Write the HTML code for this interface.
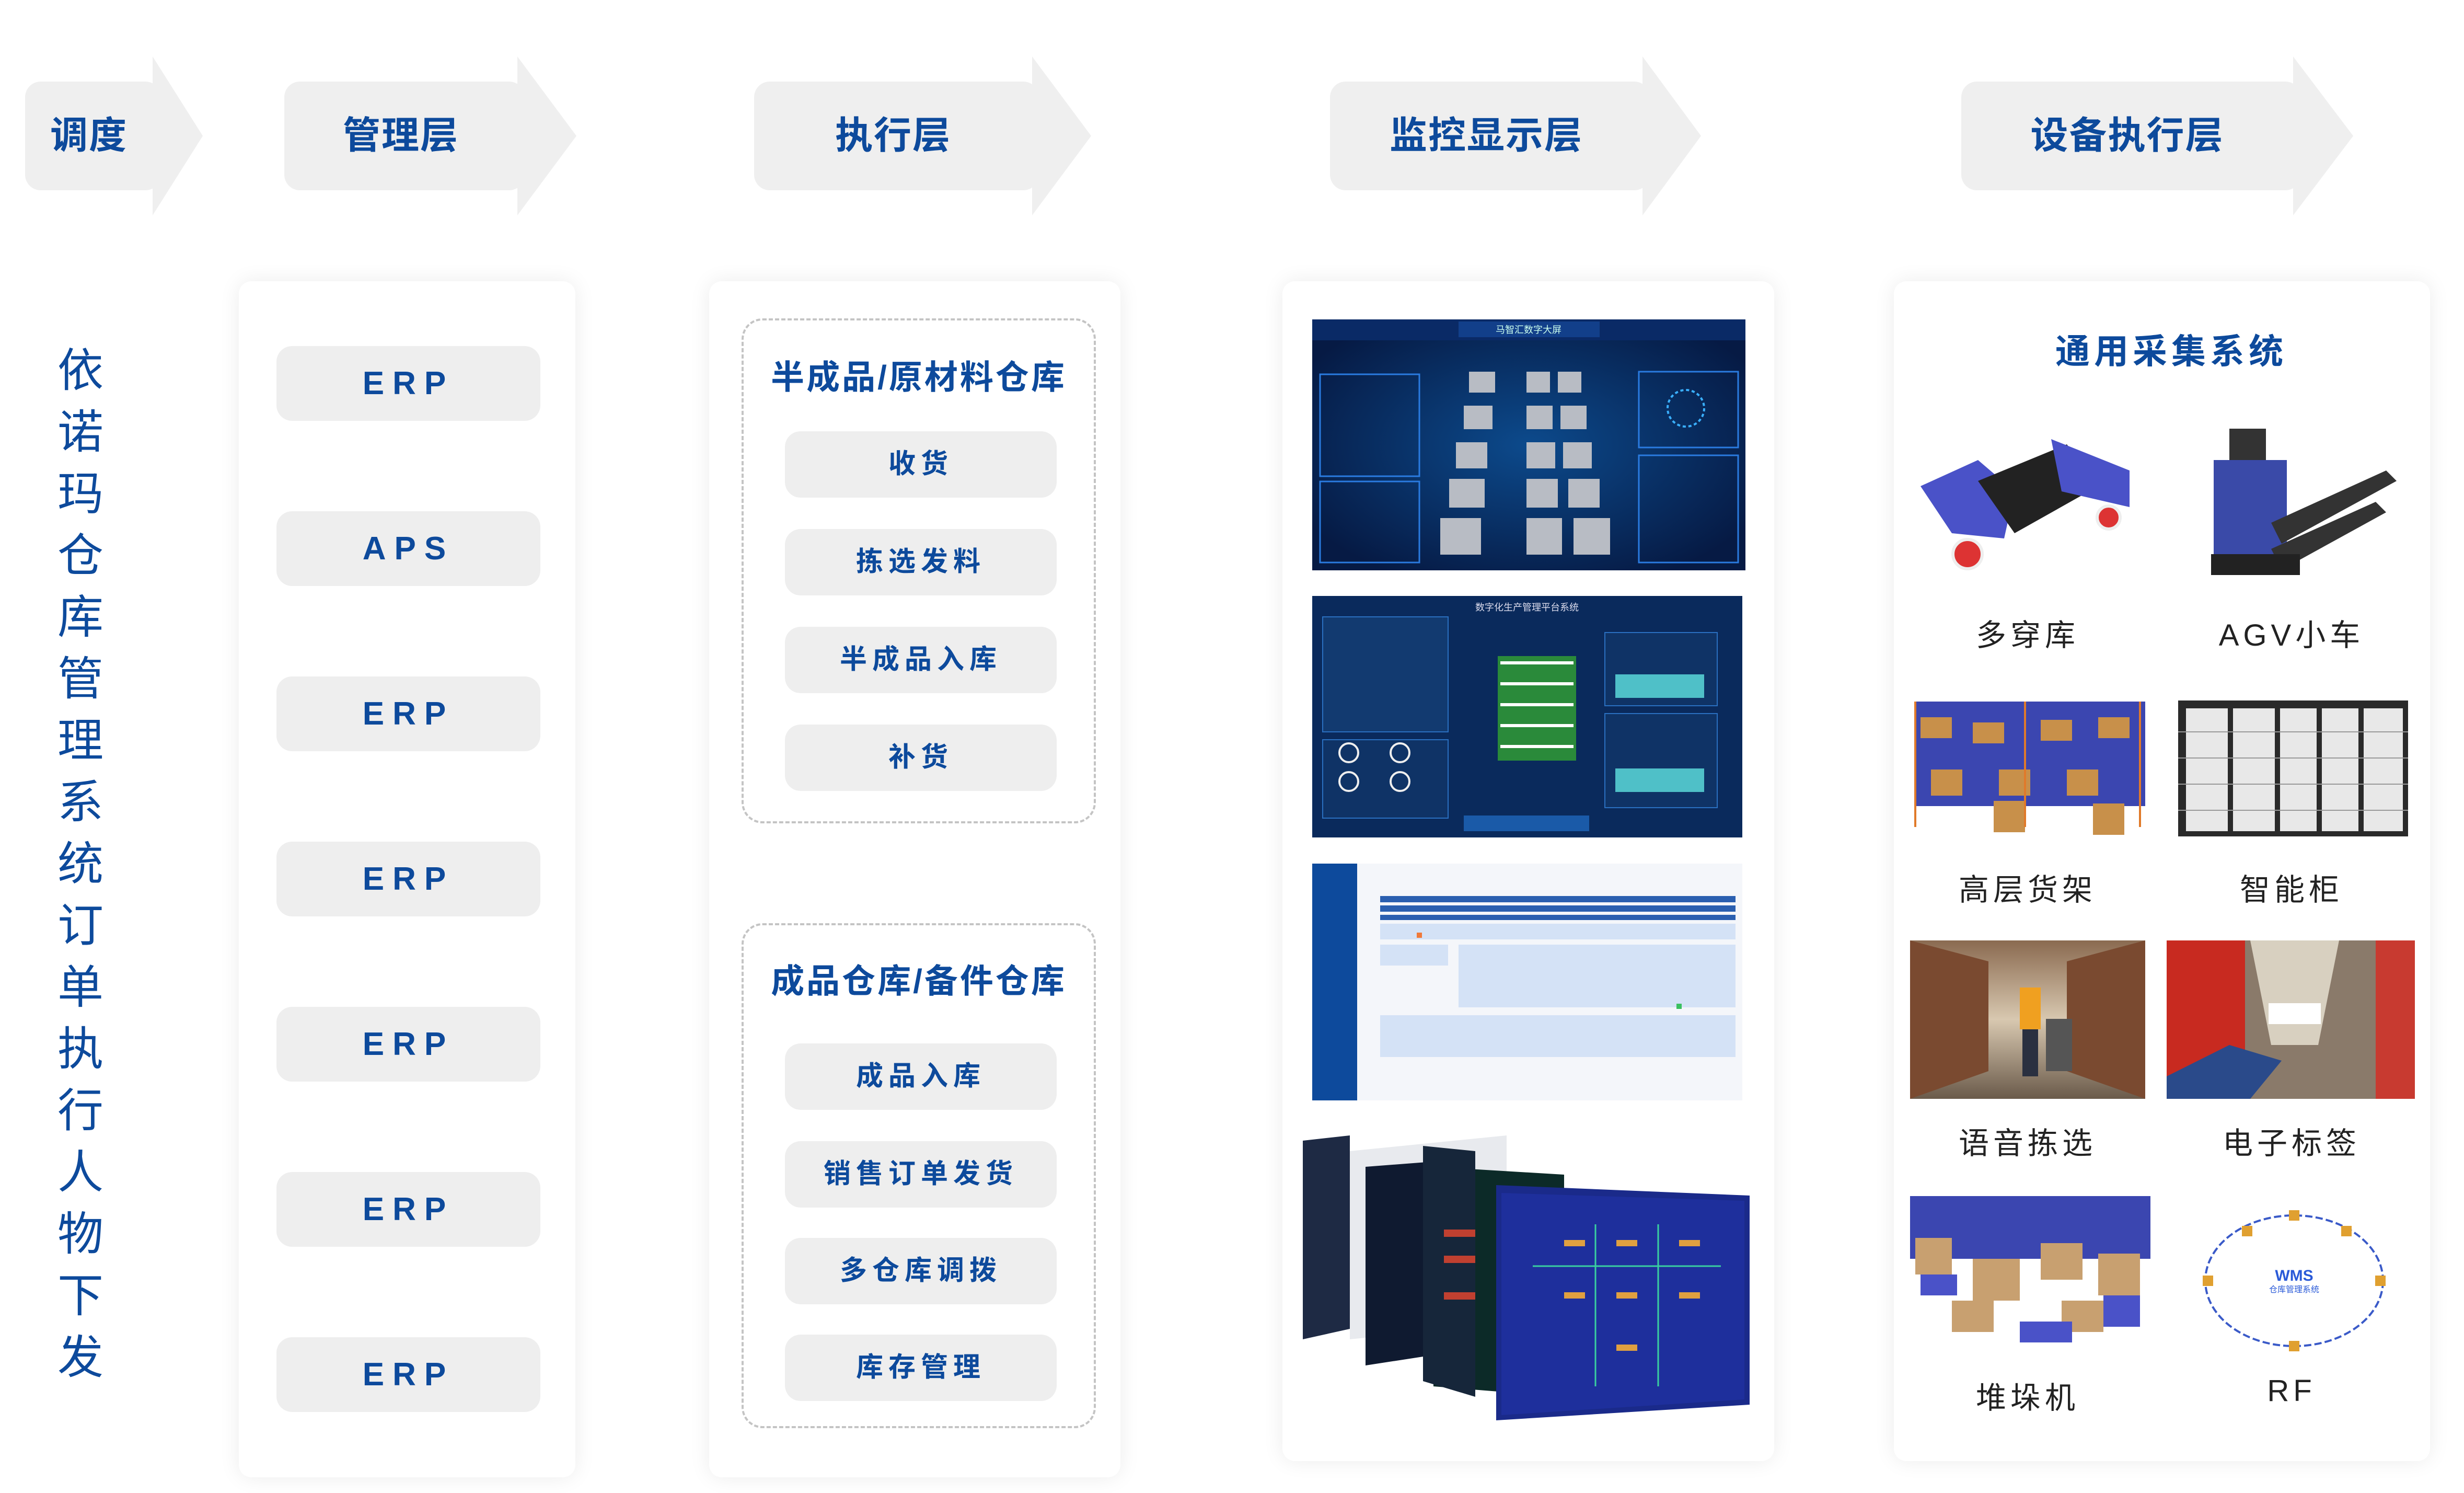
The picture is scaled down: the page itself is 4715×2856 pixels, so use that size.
<!DOCTYPE html>
<html><head><meta charset="utf-8">
<style>
html,body{margin:0;padding:0;background:#fff;}
body{width:4715px;height:2856px;position:relative;overflow:hidden;font-family:"Liberation Sans","Noto Sans CJK SC",sans-serif;}
.a{position:absolute;}
.hd{position:absolute;font-size:72px;color:#0d4a9c;font-weight:bold;text-align:center;line-height:208px;top:156px;letter-spacing:2px;}
.panel{position:absolute;background:#fff;border-radius:24px;box-shadow:0 0 40px rgba(0,0,0,0.08);}
.btn{position:absolute;background:#eeeeee;border-radius:30px;color:#0d4a9c;font-weight:bold;text-align:center;}
.erp{left:529px;width:505px;height:143px;line-height:143px;font-size:62px;letter-spacing:16px;}
.sb{left:1502px;width:520px;height:127px;line-height:127px;font-size:52px;letter-spacing:10px;}
.dash{position:absolute;border:4px dashed #c4c4c4;border-radius:40px;}
.ttl{position:absolute;color:#0d4a9c;font-weight:bold;text-align:center;}
.lbl{position:absolute;font-size:58px;color:#222;text-align:center;letter-spacing:8px;width:460px;}
.vt{position:absolute;left:108px;top:650px;width:92px;font-size:88px;line-height:118px;color:#0d4a9c;text-align:center;}
</style></head><body>

<svg class="a" style="left:0;top:0" width="4715" height="440">
<g fill="#efefef">
<rect x="48" y="156" width="260" height="208" rx="30"/><polygon points="292,108 388,260 292,412"/>
<rect x="544" y="156" width="460" height="208" rx="30"/><polygon points="990,108 1103,260 990,412"/>
<rect x="1443" y="156" width="545" height="208" rx="30"/><polygon points="1975,108 2088,260 1975,412"/>
<rect x="2545" y="156" width="612" height="208" rx="30"/><polygon points="3143,108 3255,260 3143,412"/>
<rect x="3753" y="156" width="650" height="208" rx="30"/><polygon points="4388,108 4503,260 4388,412"/>
</g></svg>
<div class="hd" style="left:48px;width:244px">调度</div>
<div class="hd" style="left:544px;width:446px">管理层</div>
<div class="hd" style="left:1443px;width:532px">执行层</div>
<div class="hd" style="left:2545px;width:598px">监控显示层</div>
<div class="hd" style="left:3753px;width:635px">设备执行层</div>

<div class="vt">依<br>诺<br>玛<br>仓<br>库<br>管<br>理<br>系<br>统<br>订<br>单<br>执<br>行<br>人<br>物<br>下<br>发</div>

<div class="panel" style="left:457px;top:538px;width:644px;height:2288px"></div>
<div class="btn erp" style="top:662px">ERP</div>
<div class="btn erp" style="top:978px">APS</div>
<div class="btn erp" style="top:1294px">ERP</div>
<div class="btn erp" style="top:1610px">ERP</div>
<div class="btn erp" style="top:1926px">ERP</div>
<div class="btn erp" style="top:2242px">ERP</div>
<div class="btn erp" style="top:2558px">ERP</div>

<div class="panel" style="left:1357px;top:538px;width:787px;height:2288px"></div>
<div class="dash" style="left:1419px;top:609px;width:670px;height:958px"></div>
<div class="ttl" style="left:1419px;top:672px;width:678px;font-size:64px;line-height:100px;letter-spacing:4px">半成品/原材料仓库</div>
<div class="btn sb" style="top:825px">收货</div>
<div class="btn sb" style="top:1012px">拣选发料</div>
<div class="btn sb" style="top:1199px">半成品入库</div>
<div class="btn sb" style="top:1386px">补货</div>
<div class="dash" style="left:1419px;top:1766px;width:670px;height:958px"></div>
<div class="ttl" style="left:1419px;top:1827px;width:678px;font-size:64px;line-height:100px;letter-spacing:4px">成品仓库/备件仓库</div>
<div class="btn sb" style="top:1996px">成品入库</div>
<div class="btn sb" style="top:2183px">销售订单发货</div>
<div class="btn sb" style="top:2368px">多仓库调拨</div>
<div class="btn sb" style="top:2553px">库存管理</div>

<div class="panel" style="left:2454px;top:538px;width:941px;height:2257px"></div>
<svg class="a" style="left:2511px;top:611px" width="829" height="480">
<defs><radialGradient id="g1" cx="50%" cy="50%" r="60%"><stop offset="0" stop-color="#0c4a8c"/><stop offset="1" stop-color="#061a44"/></radialGradient></defs>
<rect width="829" height="480" fill="url(#g1)"/>
<rect x="0" y="0" width="829" height="40" fill="#0a2a66"/>
<rect x="280" y="4" width="270" height="30" fill="#123f8a"/>
<text x="414" y="26" fill="#cfe" font-size="18" text-anchor="middle">马智汇数字大屏</text>
<rect x="15" y="105" width="190" height="195" fill="none" stroke="#2a7be0" stroke-width="3"/>
<rect x="15" y="310" width="190" height="155" fill="none" stroke="#2a7be0" stroke-width="3"/>
<rect x="625" y="100" width="190" height="145" fill="none" stroke="#2a7be0" stroke-width="3"/>
<rect x="625" y="260" width="190" height="205" fill="none" stroke="#2a7be0" stroke-width="3"/>
<g fill="#b8bcc4">
<rect x="300" y="100" width="50" height="40"/><rect x="290" y="165" width="55" height="45"/><rect x="275" y="235" width="60" height="50"/><rect x="262" y="305" width="68" height="55"/><rect x="245" y="380" width="78" height="70"/>
<rect x="410" y="100" width="45" height="40"/><rect x="410" y="165" width="50" height="45"/><rect x="410" y="235" width="55" height="50"/><rect x="410" y="305" width="60" height="55"/><rect x="410" y="380" width="68" height="70"/>
<rect x="470" y="100" width="45" height="40"/><rect x="475" y="165" width="50" height="45"/><rect x="480" y="235" width="55" height="50"/><rect x="490" y="305" width="60" height="55"/><rect x="500" y="380" width="70" height="70"/>
</g>
<circle cx="715" cy="170" r="35" fill="none" stroke="#3ab0ff" stroke-width="4" stroke-dasharray="6 5"/>
</svg>
<svg class="a" style="left:2511px;top:1140px" width="823" height="462">
<rect width="823" height="462" fill="#0a2a5c"/>
<rect x="20" y="40" width="240" height="220" fill="#123a70" stroke="#2a6fc0" stroke-width="2"/>
<rect x="20" y="275" width="240" height="150" fill="#0f3366" stroke="#2a6fc0" stroke-width="2"/>
<rect x="560" y="70" width="215" height="140" fill="#0f3366" stroke="#2a6fc0" stroke-width="2"/>
<rect x="560" y="225" width="215" height="180" fill="#0f3366" stroke="#2a6fc0" stroke-width="2"/>
<rect x="580" y="150" width="170" height="45" fill="#4fc0c8"/>
<rect x="580" y="330" width="170" height="45" fill="#4fc0c8"/>
<rect x="355" y="115" width="150" height="200" fill="#2a8a3a"/>
<g fill="#fff"><rect x="360" y="125" width="140" height="6"/><rect x="360" y="165" width="140" height="6"/><rect x="360" y="205" width="140" height="6"/><rect x="360" y="245" width="140" height="6"/><rect x="360" y="285" width="140" height="6"/></g>
<circle cx="70" cy="300" r="18" fill="none" stroke="#eee" stroke-width="4"/><circle cx="168" cy="300" r="18" fill="none" stroke="#eee" stroke-width="4"/>
<circle cx="70" cy="355" r="18" fill="none" stroke="#eee" stroke-width="4"/><circle cx="168" cy="355" r="18" fill="none" stroke="#eee" stroke-width="4"/>
<rect x="290" y="420" width="240" height="30" fill="#1a5aa8"/>
<text x="411" y="28" fill="#dde" font-size="18" text-anchor="middle">数字化生产管理平台系统</text>
</svg>
<svg class="a" style="left:2511px;top:1652px" width="823" height="453">
<rect width="823" height="453" fill="#f4f6fa"/>
<rect width="86" height="453" fill="#0d4a9c"/>
<g fill="#2a5fb0"><rect x="130" y="62" width="680" height="12"/><rect x="130" y="80" width="680" height="12"/><rect x="130" y="98" width="680" height="10"/></g>
<g fill="#d4e2f6"><rect x="130" y="115" width="680" height="30"/><rect x="130" y="155" width="130" height="40"/><rect x="280" y="155" width="530" height="120"/><rect x="130" y="290" width="680" height="80"/></g>
<rect x="200" y="132" width="10" height="10" fill="#f07a3a"/><rect x="697" y="268" width="10" height="10" fill="#3ac060"/>
</svg>
<svg class="a" style="left:2493px;top:2172px" width="857" height="545">
<polygon points="0,10 90,0 90,370 0,390" fill="#1e2a44"/>
<polygon points="90,30 390,0 390,360 90,390" fill="#e8eaee"/>
<polygon points="120,60 250,50 250,420 120,440" fill="#0f1a30"/>
<polygon points="250,60 500,75 500,500 250,480" fill="#0c2a28"/>
<polygon points="230,20 330,30 330,500 230,470" fill="#16263a"/>
<g fill="#c04030"><rect x="270" y="180" width="60" height="14"/><rect x="270" y="230" width="60" height="14"/><rect x="270" y="300" width="60" height="14"/></g>
<polygon points="370,95 855,115 855,515 370,545" fill="#1a2a8a"/>
<polygon points="380,110 845,125 845,505 380,535" fill="#1e2f9c"/>
<g stroke="#39d0a0" stroke-width="3"><line x1="440" y1="250" x2="800" y2="250"/><line x1="560" y1="170" x2="560" y2="480"/><line x1="680" y1="170" x2="680" y2="480"/></g>
<g fill="#e0a040"><rect x="500" y="200" width="40" height="12"/><rect x="600" y="200" width="40" height="12"/><rect x="720" y="200" width="40" height="12"/><rect x="500" y="300" width="40" height="12"/><rect x="600" y="300" width="40" height="12"/><rect x="720" y="300" width="40" height="12"/><rect x="600" y="400" width="40" height="12"/></g>
</svg>

<div class="panel" style="left:3624px;top:538px;width:1026px;height:2257px"></div>
<div class="ttl" style="left:3624px;top:622px;width:1062px;font-size:66px;line-height:100px;letter-spacing:8px">通用采集系统</div>
<svg class="a" style="left:3655px;top:820px" width="450" height="300">
<polygon points="20,110 130,60 200,120 180,210 80,200" fill="#4a52c8"/>
<polygon points="130,100 300,30 360,110 200,200" fill="#222"/>
<polygon points="270,20 420,80 420,150 290,120" fill="#4a52c8"/>
<circle cx="110" cy="240" r="28" fill="#d33" stroke="#eee" stroke-width="6"/><circle cx="380" cy="170" r="22" fill="#d33" stroke="#eee" stroke-width="6"/>
</svg>
<svg class="a" style="left:4146px;top:810px" width="475" height="320">
<rect x="90" y="70" width="140" height="180" fill="#3a4aa8"/>
<rect x="120" y="10" width="70" height="60" fill="#333"/>
<polygon points="200,190 420,90 440,110 220,230" fill="#333"/>
<polygon points="200,240 400,150 420,170 220,280" fill="#333"/>
<rect x="85" y="250" width="170" height="40" fill="#222"/>
</svg>
<div class="lbl" style="left:3650px;top:1168px">多穿库</div>
<div class="lbl" style="left:4155px;top:1168px">AGV小车</div>
<svg class="a" style="left:3655px;top:1322px" width="450" height="290">
<g fill="#3b46b0"><rect x="10" y="20" width="440" height="200"/></g>
<g fill="#c8904a"><rect x="20" y="50" width="60" height="40"/><rect x="120" y="60" width="60" height="40"/><rect x="250" y="55" width="60" height="40"/><rect x="360" y="50" width="60" height="40"/><rect x="40" y="150" width="60" height="50"/><rect x="170" y="150" width="60" height="50"/><rect x="300" y="150" width="60" height="50"/><rect x="160" y="210" width="60" height="60"/><rect x="350" y="215" width="60" height="60"/></g>
<g stroke="#e07a2a" stroke-width="4"><line x1="10" y1="20" x2="10" y2="260"/><line x1="220" y1="20" x2="220" y2="260"/><line x1="440" y1="20" x2="440" y2="260"/></g>
</svg>
<svg class="a" style="left:4168px;top:1340px" width="440" height="270">
<rect width="440" height="260" fill="#2a2a2a"/>
<g fill="#e8e8e8"><rect x="15" y="15" width="80" height="235"/><rect x="105" y="15" width="80" height="235"/><rect x="195" y="15" width="70" height="235"/><rect x="275" y="15" width="70" height="235"/><rect x="355" y="15" width="75" height="235"/></g>
<g stroke="#999" stroke-width="2"><line x1="0" y1="60" x2="440" y2="60"/><line x1="0" y1="110" x2="440" y2="110"/><line x1="0" y1="160" x2="440" y2="160"/><line x1="0" y1="210" x2="440" y2="210"/></g>
</svg>
<div class="lbl" style="left:3650px;top:1655px">高层货架</div>
<div class="lbl" style="left:4155px;top:1655px">智能柜</div>
<svg class="a" style="left:3655px;top:1799px" width="450" height="303">
<defs><linearGradient id="w1" x1="0" y1="0" x2="0" y2="1"><stop offset="0" stop-color="#8a6a50"/><stop offset="0.5" stop-color="#d8c8b0"/><stop offset="1" stop-color="#6a5a4a"/></linearGradient></defs>
<rect width="450" height="303" fill="url(#w1)"/>
<polygon points="0,0 150,40 150,250 0,303" fill="#7a4a30"/><polygon points="450,0 300,40 300,250 450,303" fill="#7a4a30"/>
<rect x="210" y="90" width="40" height="80" fill="#f0a020"/><rect x="215" y="170" width="30" height="90" fill="#2a3040"/>
<rect x="260" y="150" width="50" height="100" fill="#555"/>
</svg>
<svg class="a" style="left:4146px;top:1799px" width="475" height="303">
<rect width="475" height="303" fill="#8a7a6a"/>
<rect width="150" height="303" fill="#c82a20"/><rect x="400" width="75" height="303" fill="#c83a30"/>
<polygon points="160,0 330,0 290,200 200,200" fill="#d8d0c0"/>
<rect x="195" y="120" width="100" height="40" fill="#fff"/>
<polygon points="0,260 120,200 220,230 160,303 0,303" fill="#2a4a8a"/>
</svg>
<div class="lbl" style="left:3650px;top:2140px">语音拣选</div>
<div class="lbl" style="left:4155px;top:2140px">电子标签</div>
<svg class="a" style="left:3655px;top:2288px" width="460" height="300">
<rect x="0" y="0" width="460" height="120" fill="#3b46b0"/>
<g fill="#c8a070"><rect x="10" y="80" width="70" height="70"/><rect x="120" y="120" width="90" height="80"/><rect x="250" y="90" width="80" height="70"/><rect x="360" y="110" width="80" height="80"/><rect x="80" y="200" width="80" height="60"/><rect x="290" y="200" width="80" height="60"/></g>
<g fill="#4a52c8"><rect x="20" y="150" width="70" height="40"/><rect x="210" y="240" width="100" height="40"/><rect x="370" y="190" width="70" height="60"/></g>
</svg>
<svg class="a" style="left:4180px;top:2300px" width="420" height="300">
<ellipse cx="210" cy="150" rx="170" ry="125" fill="none" stroke="#3a5ac8" stroke-width="4" stroke-dasharray="14 6"/>
<text x="210" y="150" fill="#2a5ad8" font-size="30" font-weight="bold" text-anchor="middle">WMS</text>
<text x="210" y="172" fill="#2a5ad8" font-size="16" text-anchor="middle">仓库管理系统</text>
<g fill="#e0a030"><rect x="200" y="15" width="20" height="20"/><rect x="110" y="45" width="20" height="20"/><rect x="300" y="45" width="20" height="20"/><rect x="35" y="140" width="20" height="20"/><rect x="365" y="140" width="20" height="20"/><rect x="200" y="265" width="20" height="20"/></g>
</svg>
<div class="lbl" style="left:3650px;top:2627px">堆垛机</div>
<div class="lbl" style="left:4155px;top:2627px">RF</div>

</body></html>
